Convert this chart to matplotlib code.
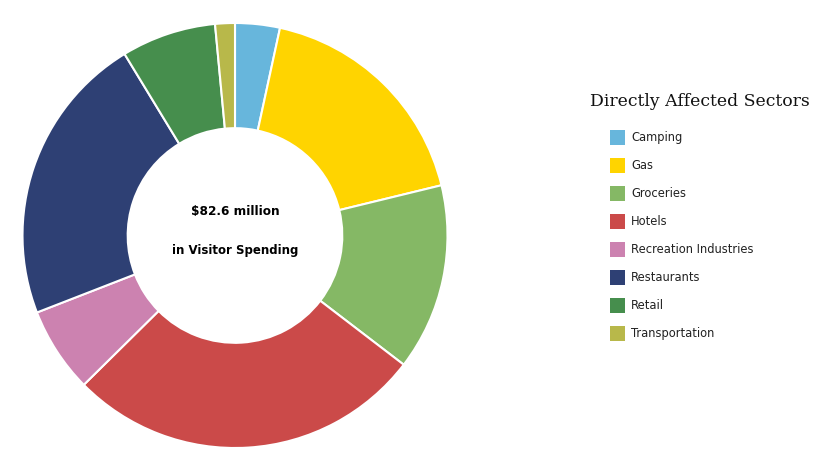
import matplotlib
matplotlib.use("Agg")
import matplotlib.pyplot as plt
from matplotlib.patches import Rectangle

# Share of visitor spending by sector (%)
sectors = ["Camping", "Gas", "Groceries", "Hotels", "Recreation Industries",
           "Restaurants", "Retail", "Transportation"]
shares = [3.4, 17.8, 14.2, 27.2, 6.5, 22.2, 7.2, 1.5]
colors = ["#67b6dc", "#ffd400", "#85b865", "#cb4a49", "#cc82b0",
          "#2e4074", "#468e4d", "#b8b84a"]

W, H = 824, 465
fig = plt.figure(figsize=(W / 100, H / 100), dpi=100)

# donut centre (235, 235.5) px, outer radius 212.5 px
cx, cy, r = 235, 235.5, 212.5
ax = fig.add_axes([(cx - r) / W, (H - cy - r) / H, 2 * r / W, 2 * r / H])
ax.pie(shares, colors=colors, startangle=90, counterclock=False, radius=1,
       wedgeprops=dict(width=0.495, edgecolor="white", linewidth=1.5))
ax.set_xlim(-1, 1)
ax.set_ylim(-1, 1)
ax.set_aspect("equal")
ax.axis("off")

ax.text(0, 0.113, "$82.6 million", ha="center", va="center",
        fontsize=8.7, fontweight="bold", family="DejaVu Sans")
ax.text(0, -0.07, "in Visitor Spending", ha="center", va="center",
        fontsize=8.5, fontweight="bold", family="DejaVu Sans")

# legend drawn by hand
fig.text(700 / W, 1 - 101 / H, "Directly Affected Sectors", ha="center",
         va="center", fontsize=12.4, family="DejaVu Serif", color="#111111")
for i, (name, col) in enumerate(zip(sectors, colors)):
    y = 137.5 + 28 * i
    fig.add_artist(Rectangle((610 / W, 1 - (y + 7.5) / H), 15 / W, 15 / H,
                             transform=fig.transFigure, facecolor=col,
                             edgecolor="none"))
    fig.text(631 / W, 1 - y / H, name, ha="left", va="center",
             fontsize=8.3, family="DejaVu Sans", color="#222222")

fig.savefig("out.png", dpi=100, facecolor="white")
